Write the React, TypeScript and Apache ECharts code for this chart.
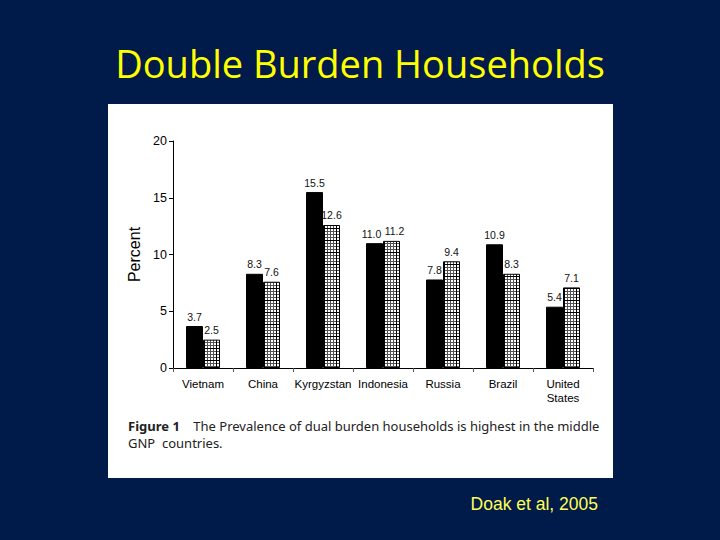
import React, { useEffect, useRef } from "react";
import * as echarts from "echarts";

const categories = ["Vietnam", "China", "Kyrgyzstan", "Indonesia", "Russia", "Brazil", "United\nStates"];
const seriesA = [3.7, 8.3, 15.5, 11.0, 7.8, 10.9, 5.4];
const seriesB = [2.5, 7.6, 12.6, 11.2, 9.4, 8.3, 7.1];
const yTicks = { min: 0, max: 20, interval: 5 };

function makePattern(): HTMLCanvasElement {
  const c = document.createElement("canvas");
  c.width = 12;
  c.height = 12;
  const ctx = c.getContext("2d")!;
  ctx.fillStyle = "#ffffff";
  ctx.fillRect(0, 0, 12, 12);
  ctx.fillStyle = "#555555";
  for (let i = 0; i < 12; i += 3) {
    ctx.fillRect(i, 0, 1, 12);
    ctx.fillRect(0, i, 12, 1);
  }
  ctx.fillStyle = "#000000";
  ctx.fillRect(0, 0, 1, 12);
  ctx.fillRect(0, 0, 12, 1);
  return c;
}

export default function App() {
  const ref = useRef<HTMLDivElement>(null);
  useEffect(() => {
    document.body.style.margin = "0";
    const chart = echarts.init(ref.current!, null, { renderer: "svg" });
    const pattern = makePattern();
    const labelStyle = {
      show: true,
      position: "top" as const,
      distance: 4,
      fontFamily: "Liberation Sans",
      fontSize: 10.5,
      color: "#111",
      formatter: (p: any) => Number(p.value).toFixed(1),
    };
    // Indonesia's two labels sit side by side; nudge them apart
    const dataA = seriesA.map((v, i) => (i === 3 ? { value: v, label: { offset: [-3, 0] } } : v));
    const dataB = seriesB.map((v, i) => (i === 3 ? { value: v, label: { offset: [3, 0] } } : v));
    chart.setOption({
      animation: false,
      backgroundColor: "#001a4a",
      graphic: [
        {
          type: "rect",
          z: -10,
          shape: { x: 108, y: 104, width: 505, height: 374 },
          style: { fill: "#ffffff" },
        },
        {
          type: "text",
          x: 360,
          y: 82,
          style: {
            text: "Double Burden Households",
            fill: "#ffff00",
            font: "38px 'Open Sans'",
            textAlign: "center",
            textVerticalAlign: "bottom",
          },
        },
        {
          type: "text",
          x: 128,
          y: 418,
          style: {
            text: "{b|Figure 1}    The Prevalence of dual burden households is highest in the middle",
            fill: "#222",
            fontFamily: "Noto Sans",
            fontSize: 13,
            lineHeight: 16,
            rich: {
              b: { fontWeight: "bold", fontFamily: "Noto Sans", fontSize: 13, fill: "#222", lineHeight: 16 },
            },
          },
        },
        {
          type: "text",
          x: 128,
          y: 435,
          style: {
            text: "GNP  countries.",
            fill: "#222",
            fontFamily: "Noto Sans",
            fontSize: 13,
            lineHeight: 16,
          },
        },
        {
          type: "text",
          x: 598,
          y: 513,
          style: {
            text: "Doak et al, 2005",
            fill: "#ffff55",
            font: "17.5px 'Liberation Sans'",
            textAlign: "right",
            textVerticalAlign: "bottom",
          },
        },
      ],
      grid: { left: 173, right: 127, top: 141, bottom: 172, containLabel: false },
      xAxis: {
        type: "category",
        data: categories,
        axisLine: { lineStyle: { color: "#000", width: 1 } },
        axisTick: { show: true, length: 4, lineStyle: { color: "#555" } },
        axisLabel: {
          fontFamily: "Liberation Sans",
          fontSize: 11.5,
          color: "#000",
          margin: 9,
          lineHeight: 14,
          interval: 0,
        },
      },
      yAxis: {
        type: "value",
        min: yTicks.min,
        max: yTicks.max,
        interval: yTicks.interval,
        name: "Percent",
        nameLocation: "middle",
        nameGap: 25,
        nameRotate: 90,
        nameTextStyle: { fontFamily: "Liberation Sans", fontSize: 16, color: "#000" },
        axisLine: { show: true, lineStyle: { color: "#000", width: 1 } },
        axisTick: { show: true, length: 4, lineStyle: { color: "#000" } },
        splitLine: { show: false },
        axisLabel: { fontFamily: "Liberation Sans", fontSize: 12.5, color: "#000", margin: 6 },
      },
      series: [
        {
          type: "bar",
          data: dataA,
          barWidth: 17,
          barGap: "0%",
          itemStyle: { color: "#000", borderColor: "#000", borderWidth: 1 },
          label: labelStyle,
        },
        {
          type: "bar",
          data: dataB,
          barWidth: 17,
          barGap: "0%",
          itemStyle: {
            color: { image: pattern, repeat: "repeat" },
            borderColor: "#000",
            borderWidth: 1,
          },
          label: labelStyle,
        },
      ],
    });
    return () => chart.dispose();
  }, []);
  return <div ref={ref} style={{ width: 720, height: 540, position: "absolute", left: 0, top: 0 }} />;
}
